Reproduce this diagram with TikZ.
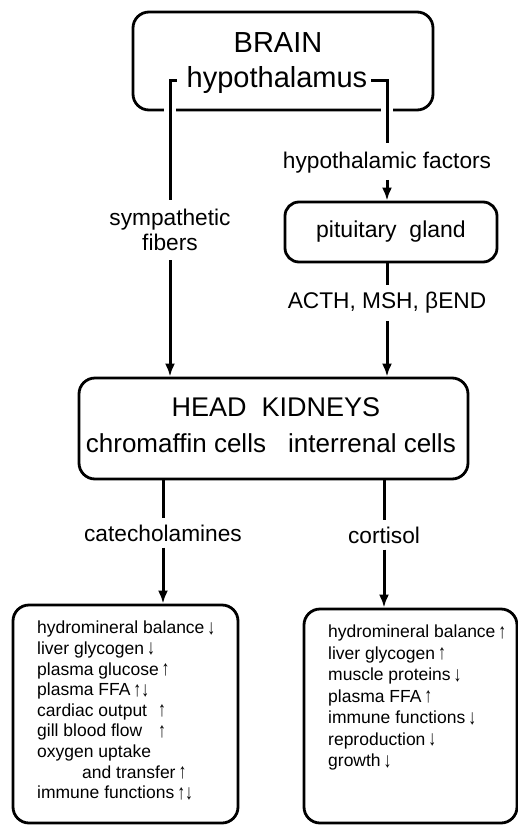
\documentclass[tikz,border=0pt]{standalone}
\usepackage{fontspec}
\setmainfont{Liberation Sans}
\usetikzlibrary{arrows.meta, positioning}
\newcommand{\uparr}{\smash{\raisebox{-0.5pt}{\scalebox{0.9}[1.2]{↑}}}}
\newcommand{\downarr}{\smash{\raisebox{-0.5pt}{\scalebox{0.9}[1.2]{↓}}}}
\tikzset{
    wire/.style={draw=black, line width=3pt},
    cross/.style={wire, preaction={draw=white, line width=12pt}},
    arrow/.style={wire, -{Latex[length=13pt, width=10pt]}}
}

\begin{document}
\begin{tikzpicture}[x=1pt, y=-1pt,
                box/.style={draw, rectangle, rounded corners=16pt, line width=2.8pt},
                title/.style={font=\fontsize{29}{32}\selectfont, inner sep=0pt},
                flowtext/.style={font=\fontsize{22.7}{25}\selectfont, align=center, inner sep=0pt},
                effects/.style={font=\fontsize{17.5}{20.6}\selectfont, align=left, inner sep=0pt, anchor=north west}
            ]
                \useasboundingbox (0,0) rectangle (518,825);

                % Nodes
                \node (brain) [box, minimum width=300pt, minimum height=98pt] at (283,61) {};
                \node (brainname) [title] at (278,43) {BRAIN};
                \node (hypo) [title] at (277,80) {hypothalamus};
                \node (factors) [flowtext] at (387,163) {hypothalamic factors};
                \node (pituitary) [box, rounded corners=14pt, minimum width=212pt, minimum height=60pt, font=\fontsize{23}{26}\selectfont] at (391,232) {pituitary~~gland};
                \node (hormones) [flowtext] at (387,303) {ACTH, MSH, βEND};
                \node (sympathetic) [flowtext] at (170,230) {sympathetic\\fibers};
                \node (kidney) [box, minimum width=389pt, minimum height=101pt] at (273.5,428.5) {};
                \node (kidneyname) [title, font=\fontsize{27}{30}\selectfont] at (276,407) {HEAD~~KIDNEYS};
                \node (chromaffin) [title, font=\fontsize{26}{30}\selectfont] at (176,443) {chromaffin cells};
                \node (interrenal) [title, font=\fontsize{26}{30}\selectfont] at (372,443) {interrenal cells};
                \node (catecholamines) [flowtext] at (163,533) {catecholamines};
                \node (cortisol) [flowtext] at (384,535) {cortisol};
                \node (catbox) [box, minimum width=225pt, minimum height=218pt] at (125.5,714) {};
                \node (cortbox) [box, minimum width=213pt, minimum height=214pt] at (410.5,716) {};
                \node (cateffects) [effects] at (37,621) {hydromineral balance\,\downarr\\
                    liver glycogen\,\downarr\\
                    plasma glucose\,\uparr\\
                    plasma FFA\,\uparr\downarr\\
                    \makebox[121pt][l]{cardiac output}\uparr\\
                    \makebox[121pt][l]{gill blood flow}\uparr\\
                    oxygen uptake\\
                    \hspace*{45pt}and transfer\,\uparr\\
                    immune functions\,\uparr\downarr};
                \node (corteffects) [effects, font=\fontsize{17.5}{21.5}\selectfont] at (328,625) {hydromineral balance\,\uparr\\
                    liver glycogen\,\uparr\\
                    muscle proteins\,\downarr\\
                    plasma FFA\,\uparr\\
                    immune functions\,\downarr\\
                    reproduction\,\downarr\\
                    growth\,\downarr};

                % Arrows
                \draw [cross, line width=3pt, shorten >=9pt] ([xshift=-10pt]hypo.west) -| (sympathetic);
                \draw [arrow, line width=3pt, shorten <=9pt] (sympathetic) -- (sympathetic |- kidney.north);
                \draw [cross, line width=3pt, shorten >=9pt] ([xshift=4pt]hypo.east) -| (factors);
                \draw [arrow, line width=3pt, shorten <=6pt] (factors) -- (factors |- pituitary.north);
                \draw [wire, line width=3pt, shorten >=7pt] (hormones |- pituitary.south) -- (hormones);
                \draw [arrow, line width=3pt, shorten <=7pt] (hormones) -- (hormones |- kidney.north);
                \draw [wire, line width=3pt, shorten >=6pt] (catecholamines |- kidney.south) -- (catecholamines);
                \draw [arrow, line width=3pt, shorten <=6pt] (catecholamines) -- (catecholamines |- catbox.north);
                \draw [wire, line width=3pt, shorten >=6pt] (cortisol |- kidney.south) -- (cortisol);
                \draw [arrow, line width=3pt, shorten <=6pt] (cortisol) -- (cortisol |- cortbox.north);
            \end{tikzpicture}
\end{document}
